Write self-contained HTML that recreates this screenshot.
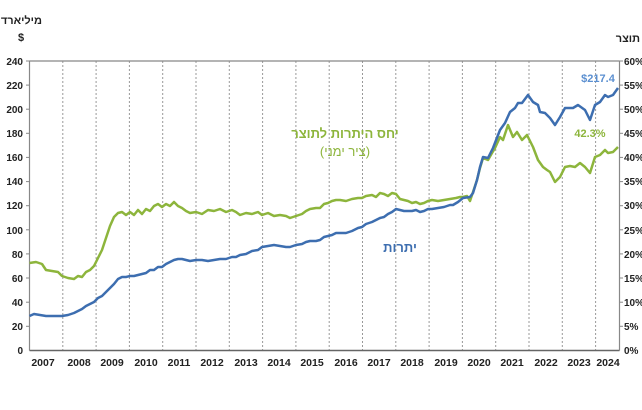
<!DOCTYPE html>
<html><head><meta charset="utf-8"><style>
body{margin:0;background:#fff;}
svg{display:block;font-family:"Liberation Sans","Noto Sans CJK SC",sans-serif;}
</style></head><body>
<svg width="642" height="410" viewBox="0 0 642 410">
<g stroke="#999" stroke-width="1" stroke-dasharray="2,2">
<line x1="62.8" y1="61" x2="62.8" y2="350"/><line x1="96.1" y1="61" x2="96.1" y2="350"/>
<line x1="129.4" y1="61" x2="129.4" y2="350"/><line x1="162.7" y1="61" x2="162.7" y2="350"/>
<line x1="196" y1="61" x2="196" y2="350"/><line x1="229.3" y1="61" x2="229.3" y2="350"/>
<line x1="262.6" y1="61" x2="262.6" y2="350"/><line x1="295.9" y1="61" x2="295.9" y2="350"/>
<line x1="329.2" y1="61" x2="329.2" y2="350"/><line x1="362.5" y1="61" x2="362.5" y2="350"/>
<line x1="395.8" y1="61" x2="395.8" y2="350"/><line x1="429.1" y1="61" x2="429.1" y2="350"/>
<line x1="462.4" y1="61" x2="462.4" y2="350"/><line x1="495.7" y1="61" x2="495.7" y2="350"/>
<line x1="529" y1="61" x2="529" y2="350"/><line x1="562.3" y1="61" x2="562.3" y2="350"/>
<line x1="595.6" y1="61" x2="595.6" y2="350"/>
</g>
<g stroke="#888" stroke-width="1.2" fill="none">
<line x1="29.5" y1="61" x2="29.5" y2="350.5"/>
<line x1="29.5" y1="61" x2="619.5" y2="61"/>
<line x1="619.5" y1="61" x2="619.5" y2="350.5"/>
<line x1="29.5" y1="350.5" x2="619.5" y2="350.5" stroke="#666" stroke-width="1.5"/>
</g>
<g stroke="#888" stroke-width="1">
<line x1="26" y1="61" x2="29.5" y2="61"/><line x1="26" y1="85.1" x2="29.5" y2="85.1"/><line x1="26" y1="109.2" x2="29.5" y2="109.2"/><line x1="26" y1="133.3" x2="29.5" y2="133.3"/><line x1="26" y1="157.4" x2="29.5" y2="157.4"/><line x1="26" y1="181.6" x2="29.5" y2="181.6"/><line x1="26" y1="205.7" x2="29.5" y2="205.7"/><line x1="26" y1="229.8" x2="29.5" y2="229.8"/><line x1="26" y1="253.9" x2="29.5" y2="253.9"/><line x1="26" y1="278" x2="29.5" y2="278"/><line x1="26" y1="302.2" x2="29.5" y2="302.2"/><line x1="26" y1="326.3" x2="29.5" y2="326.3"/>
<line x1="619.5" y1="61" x2="623" y2="61"/><line x1="619.5" y1="85.1" x2="623" y2="85.1"/><line x1="619.5" y1="109.2" x2="623" y2="109.2"/><line x1="619.5" y1="133.3" x2="623" y2="133.3"/><line x1="619.5" y1="157.4" x2="623" y2="157.4"/><line x1="619.5" y1="181.6" x2="623" y2="181.6"/><line x1="619.5" y1="205.7" x2="623" y2="205.7"/><line x1="619.5" y1="229.8" x2="623" y2="229.8"/><line x1="619.5" y1="253.9" x2="623" y2="253.9"/><line x1="619.5" y1="278" x2="623" y2="278"/><line x1="619.5" y1="302.2" x2="623" y2="302.2"/><line x1="619.5" y1="326.3" x2="623" y2="326.3"/>
</g>
<g font-size="10" font-weight="bold" fill="#222" text-anchor="end">
<text x="23" y="65">240</text><text x="23" y="89">220</text><text x="23" y="113">200</text><text x="23" y="137">180</text><text x="23" y="161">160</text><text x="23" y="185">140</text><text x="23" y="209">120</text><text x="23" y="234">100</text><text x="23" y="258">80</text><text x="23" y="282">60</text><text x="23" y="306">40</text><text x="23" y="330">20</text><text x="23" y="354">0</text>
</g>
<g font-size="10" font-weight="bold" fill="#222">
<text x="624" y="65">60%</text><text x="624" y="89">55%</text><text x="624" y="113">50%</text><text x="624" y="137">45%</text><text x="624" y="161">40%</text><text x="624" y="185">35%</text><text x="624" y="209">30%</text><text x="624" y="234">25%</text><text x="624" y="258">20%</text><text x="624" y="282">15%</text><text x="624" y="306">10%</text><text x="624" y="330">5%</text><text x="624" y="354">0%</text>
</g>
<g font-size="10.5" font-weight="bold" fill="#222" text-anchor="middle">
<text x="43" y="366">2007</text><text x="79" y="366">2008</text><text x="112" y="366">2009</text><text x="146" y="366">2010</text><text x="179" y="366">2011</text><text x="212" y="366">2012</text><text x="246" y="366">2013</text><text x="279" y="366">2014</text><text x="312" y="366">2015</text><text x="346" y="366">2016</text><text x="379" y="366">2017</text><text x="412" y="366">2018</text><text x="446" y="366">2019</text><text x="479" y="366">2020</text><text x="512" y="366">2021</text><text x="546" y="366">2022</text><text x="579" y="366">2023</text><text x="608" y="366">2024</text>
</g>
<text x="42" y="24" font-size="11" font-weight="bold" fill="#222" text-anchor="end">מיליארד</text>
<text x="21" y="41" font-size="11" font-weight="bold" fill="#222" text-anchor="middle">$</text>
<text x="640" y="42" font-size="11" font-weight="bold" fill="#222" text-anchor="end">תוצר</text>
<polyline fill="none" stroke="#8db53c" stroke-width="2.5" stroke-linejoin="round" points="29.5,263 36,262 42,264 46,270 52,271 58,272 62,276 68,278 74,279 78,276 82,277 86,272 90,270 94,266 98,258 102,250 106,238 110,226 114,217 118,213 122,212 126,215 130,212 134,215 138,210 142,214 146,209 150,211 154,206 158,204 162,207 166,204 170,206 174,202 178,206 182,208 186,211 190,213 196,212 202,214 208,210 214,211 220,209 226,212 232,210 236,212 240,215 246,213 252,214 258,212 262,215 268,213 274,216 280,215 286,216 290,218 296,216 302,214 306,211 310,209 316,208 320,208 324,204 328,203 332,201 336,200 340,200 346,201 352,199 358,198 362,198 366,196 372,195 376,197 380,193 384,194 388,196 392,193 396,194 400,199 404,200 408,201 412,203 416,202 420,204 424,203 428,201 432,200 438,201 444,200 450,199 456,198 460,197 463,197 467,196 470,201 473,192 477,180 480,168 483,158 488,160 492,153 495,148 500,137 503,140 508,125 513,137 517,132 522,140 527,135 533,147 538,160 543,167 547,170 550,172 555,182 560,177 565,167 570,166 575,167 580,163 585,167 590,173 595,157 600,155 605,150 608,153 613,152 618,147"/>
<polyline fill="none" stroke="#3d6eb0" stroke-width="2.5" stroke-linejoin="round" points="29.5,316 34,314 40,315 46,316 52,316 58,316 62,316 68,315 74,313 78,311 82,309 86,306 90,304 94,302 98,298 102,296 106,292 110,288 114,284 118,279 122,277 126,277 130,276 134,276 138,275 142,274 146,273 150,270 154,270 158,267 162,267 166,264 170,262 174,260 178,259 182,259 186,260 190,261 196,260 202,260 208,261 214,260 220,259 226,259 232,257 236,257 240,255 246,254 252,251 258,250 262,247 268,246 274,245 280,246 286,247 290,247 296,245 302,244 306,242 310,241 316,241 320,240 324,237 328,236 332,235 336,233 340,233 346,233 352,231 358,228 362,227 366,224 372,222 376,220 380,218 384,217 388,214 392,212 396,209 400,210 404,211 408,211 412,211 416,210 420,212 424,211 428,209 432,209 438,208 444,207 450,205 453,205 458,202 463,198 470,197 473,193 477,180 480,167 483,157 488,158 493,148 500,130 505,123 510,112 515,108 518,103 522,103 528,95 533,102 538,105 540,112 545,113 550,118 555,125 560,117 565,108 573,108 578,105 585,110 590,120 595,105 600,102 605,95 608,97 613,95 618,88"/>
<text x="345" y="138" font-size="13" font-weight="bold" fill="#8db53c" text-anchor="middle">יחס היתרות לתוצר</text>
<text x="345" y="156" font-size="13" fill="#8db53c" text-anchor="middle">(ציר ימני)</text>
<text x="400" y="252" font-size="13" font-weight="bold" fill="#3d6eb0" text-anchor="middle">יתרות</text>
<text x="598" y="82" font-size="11" font-weight="bold" fill="#5b8fd0" text-anchor="middle">$217.4</text>
<text x="590" y="137" font-size="11" font-weight="bold" fill="#8db53c" text-anchor="middle">42.3%</text>
</svg>
</body></html>
